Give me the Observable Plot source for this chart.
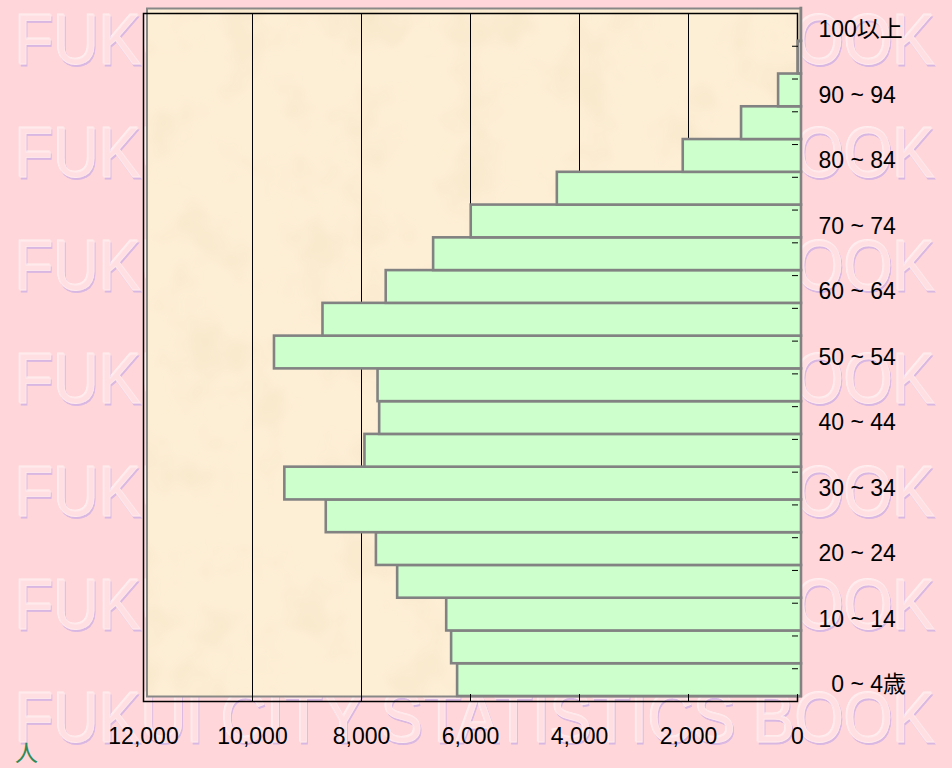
<!DOCTYPE html>
<html><head><meta charset="utf-8">
<script src="https://cdn.jsdelivr.net/npm/d3@7"></script>
<script src="https://cdn.jsdelivr.net/npm/@observablehq/plot@0.6"></script>
<style>
html,body{margin:0;padding:0;background:#ffd7da;width:952px;height:768px;overflow:hidden;}
#wrap{position:relative;width:952px;height:768px;}
#wm,#chart{position:absolute;left:0;top:0;}
#unit{position:absolute;left:15px;top:742px;font:23px "Liberation Sans","Noto Sans CJK JP",sans-serif;color:#2e8b57;line-height:1;}
</style></head><body>
<div id="wrap"><svg id="wm" width="952" height="768"></svg><div id="chart"></div><div id="unit">人</div></div>
<script>
// age groups, bottom (youngest) to top
const ageGroups = ["0-4","5-9","10-14","15-19","20-24","25-29","30-34","35-39","40-44","45-49","50-54","55-59","60-64","65-69","70-74","75-79","80-84","85-89","90-94","95-99","100+"];
const population = [6310,6420,6510,7410,7800,8720,9480,8010,7740,7770,9670,8780,7620,6750,6060,4480,2170,1100,420,60,5];
const ageLabels = {"0-4":"\u20070 ~ 4歳","10-14":"10 ~ 14","20-24":"20 ~ 24","30-34":"30 ~ 34","40-44":"40 ~ 44","50-54":"50 ~ 54","60-64":"60 ~ 64","70-74":"70 ~ 74","80-84":"80 ~ 84","90-94":"90 ~ 94","100+":"100以上"};
const xTicks = [0,2000,4000,6000,8000,10000,12000];
const gridTicks = [2000,4000,6000,8000,10000];
const watermark = "FUKUI CITY STATISTICS BOOK";

const data = ageGroups.map((a,i)=>({age:a, value:population[i]}));

// watermark background (embossed look, one text per row)
const wm = d3.select("#wm");
const defs = wm.append("defs");
const f = defs.append("filter").attr("id","emboss").attr("x","-5%").attr("y","-20%").attr("width","110%").attr("height","140%");
f.append("feOffset").attr("in","SourceAlpha").attr("dx",1.5).attr("dy",2).attr("result","o1");
f.append("feComposite").attr("in","o1").attr("in2","SourceAlpha").attr("operator","out").attr("result","sh");
f.append("feFlood").attr("flood-color","#a48cee").attr("flood-opacity",0.42).attr("result","c1");
f.append("feComposite").attr("in","c1").attr("in2","sh").attr("operator","in").attr("result","shadow");
f.append("feOffset").attr("in","SourceAlpha").attr("dx",-1.2).attr("dy",-1.2).attr("result","o2");
f.append("feComposite").attr("in","o2").attr("in2","SourceAlpha").attr("operator","out").attr("result","hl");
f.append("feFlood").attr("flood-color","#ffffff").attr("flood-opacity",0.6).attr("result","c2");
f.append("feComposite").attr("in","c2").attr("in2","hl").attr("operator","in").attr("result","hilite");
const m = f.append("feMerge");
m.append("feMergeNode").attr("in","SourceGraphic");
m.append("feMergeNode").attr("in","shadow");
m.append("feMergeNode").attr("in","hilite");

const rows = d3.range(7).map(i => 64 + i*113);
for (const y of rows) {
  const t = wm.append("text").attr("x",0).attr("y",0)
    .attr("font-family","Liberation Sans, sans-serif").attr("font-size",70)
    .attr("fill","#ffdfe2").attr("stroke","#ffebed").attr("stroke-width",0.8)
    .attr("filter","url(#emboss)").text(watermark);
  const w = t.node().getComputedTextLength();
  t.attr("transform", `translate(15,${y}) scale(${920 / w},1)`);
}

const bw = (701-13)/ageGroups.length;
const font = '"Liberation Sans","Noto Sans CJK JP",Arial,sans-serif';

const chart = Plot.plot({
  width: 952, height: 768,
  marginLeft: 143, marginRight: 155, marginTop: 13, marginBottom: 67,
  style: {background: "transparent", fontFamily: font, fontSize: "23px", color: "#000"},
  x: {domain: [0, 12000], reverse: true, label: null},
  y: {type: "band", domain: ageGroups.slice().reverse(), padding: 0, round: false, label: null},
  marks: [
    Plot.frame({fill: "#fdefd6", stroke: "#878787", strokeWidth: 2, dx: 3.5, dy: -5}),
    Plot.frame({fill: "#d8b880", fillOpacity: 0.13, stroke: "none", dx: 3.5, dy: -5}),
    Plot.gridX(gridTicks, {stroke: "#000", strokeOpacity: 1, strokeWidth: 1}),
    Plot.frame({stroke: "#000", strokeWidth: 1.5}),
    Plot.barX(data, {x: "value", y: "age", fill: "#ccffcc", stroke: "#828282", strokeWidth: 2.6, dx: 4, dy: -5}),
    Plot.axisY({anchor: "right", tickSize: 6, dx: -6, dy: -bw/2, tickFormat: () => "", stroke: "#000", label: null}),
    Plot.axisY(Object.keys(ageLabels), {anchor: "right", tickSize: 0, tickPadding: 21, textAnchor: "start", tickFormat: d => ageLabels[d], fill: "#000", label: null}),
    Plot.axisX(xTicks, {anchor: "bottom", tickSize: 7, dy: -7, tickFormat: () => "", stroke: "#000", label: null}),
    Plot.axisX(xTicks, {anchor: "bottom", tickSize: 0, tickPadding: 26, tickFormat: d => d3.format(",")(d), fill: "#000", label: null})
  ]
});
// mottled paper texture on the second frame layer
const svg = d3.select(chart);
const cd = svg.append("defs");
const tf = cd.append("filter").attr("id","paper").attr("x",0).attr("y",0).attr("width","100%").attr("height","100%");
tf.append("feTurbulence").attr("type","fractalNoise").attr("baseFrequency",0.018).attr("numOctaves",3).attr("seed",4).attr("result","n");
tf.append("feColorMatrix").attr("in","n").attr("type","matrix")
  .attr("values","0 0 0 0 0  0 0 0 0 0  0 0 0 0 0  0 0 0 -2.2 1.2").attr("result","a");
tf.append("feComposite").attr("in","SourceGraphic").attr("in2","a").attr("operator","in");
svg.selectAll("[aria-label=frame]").filter((d,i)=>i===1).attr("filter","url(#paper)");
document.getElementById("chart").appendChild(chart);
</script>
</body></html>
